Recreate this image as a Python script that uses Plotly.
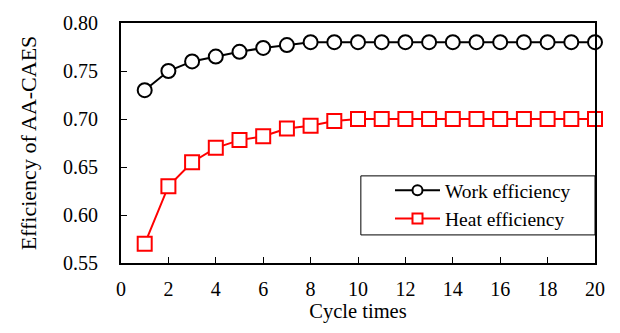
import plotly.graph_objects as go

cycles = list(range(1, 21))
work_eff = [0.730, 0.750, 0.760, 0.765, 0.770, 0.774, 0.777, 0.780, 0.780, 0.780,
            0.780, 0.780, 0.780, 0.780, 0.780, 0.780, 0.780, 0.780, 0.780, 0.780]
heat_eff = [0.570, 0.630, 0.655, 0.670, 0.678, 0.682, 0.690, 0.693, 0.698, 0.700,
            0.700, 0.700, 0.700, 0.700, 0.700, 0.700, 0.700, 0.700, 0.700, 0.700]
x_ticks = list(range(0, 21, 2))
y_ticks = [0.55, 0.60, 0.65, 0.70, 0.75, 0.80]

font = "Liberation Serif"
RED = "#ff0000"

fig = go.Figure()
fig.add_trace(go.Scatter(
    x=cycles, y=work_eff, name="Work efficiency", mode="lines+markers",
    line=dict(color="black", width=2), showlegend=False,
    marker=dict(symbol="circle", size=14, color="white", line=dict(color="black", width=2)),
    cliponaxis=False))
fig.add_trace(go.Scatter(
    x=cycles, y=heat_eff, name="Heat efficiency", mode="lines+markers",
    line=dict(color=RED, width=2), showlegend=False,
    marker=dict(symbol="square", size=14, color="white", line=dict(color=RED, width=2)),
    cliponaxis=False))
# legend entries (smaller symbols, as in the original legend)
fig.add_trace(go.Scatter(
    x=[None], y=[None], name="Work efficiency", mode="lines+markers",
    line=dict(color="black", width=2),
    marker=dict(symbol="circle", size=10, color="white", line=dict(color="black", width=2))))
fig.add_trace(go.Scatter(
    x=[None], y=[None], name="Heat efficiency", mode="lines+markers",
    line=dict(color=RED, width=2),
    marker=dict(symbol="square", size=10, color="white", line=dict(color=RED, width=2))))

# legend frame
fig.add_shape(type="rect", xref="paper", yref="paper",
              x0=0.506, x1=1.0, y0=0.117, y1=0.363,
              line=dict(color="black", width=1), fillcolor="white", layer="above")

fig.update_layout(
    width=620, height=333,
    margin=dict(l=121, r=25, t=15, b=70),
    paper_bgcolor="white", plot_bgcolor="white",
    font=dict(family=font, size=20, color="black"),
    legend=dict(x=0.5675, y=0.383, xanchor="left", yanchor="top",
                borderwidth=0, bgcolor="rgba(0,0,0,0)",
                font=dict(size=19.5), itemwidth=45, tracegroupgap=0),
    showlegend=True,
)
fig.update_xaxes(range=[0, 20], tickvals=x_ticks, ticks="inside", ticklen=6,
                 tickwidth=1, tickcolor="black", showline=True, linecolor="black",
                 linewidth=2, mirror=True, showgrid=False, zeroline=False,
                 ticklabelstandoff=7,
                 title=dict(text="Cycle times", font=dict(size=20.5), standoff=3),
                 tickfont=dict(size=20))
fig.update_yaxes(range=[0.55, 0.80], tickvals=y_ticks, tickformat=".2f",
                 ticks="inside", ticklen=6, tickwidth=1, tickcolor="black",
                 showline=True, linecolor="black", linewidth=2, mirror=True,
                 showgrid=False, zeroline=False,
                 ticklabelstandoff=17,
                 title=dict(text="Efficiency of AA-CAES", font=dict(size=22), standoff=20),
                 tickfont=dict(size=20))

fig.write_html("out.html")
